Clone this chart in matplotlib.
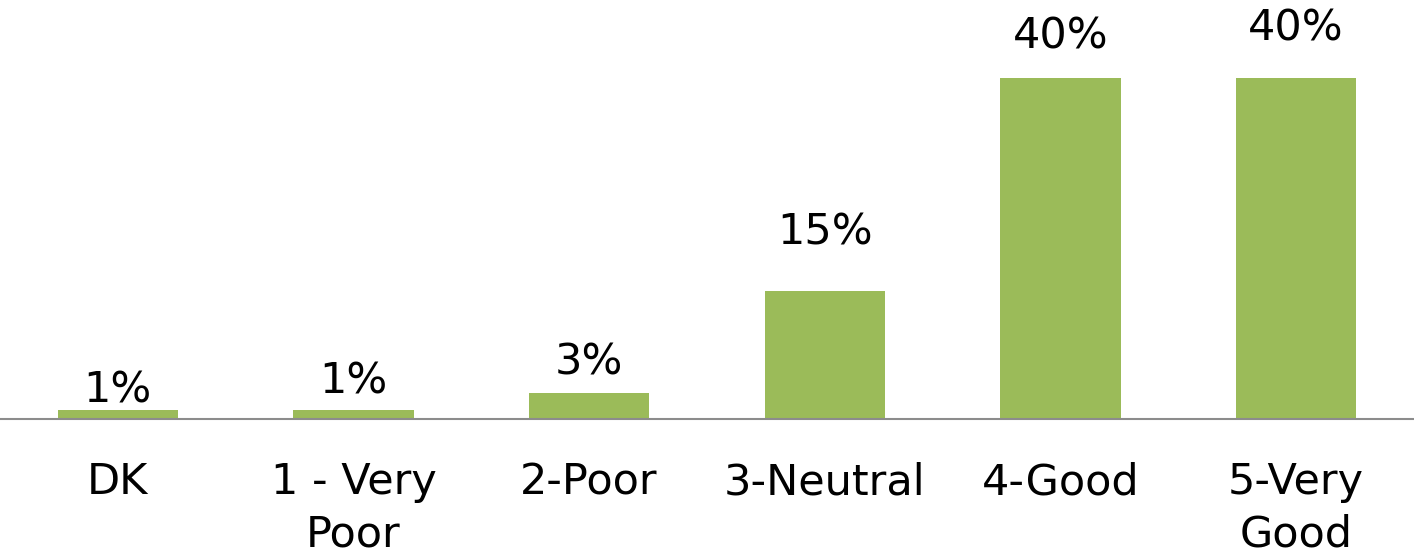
import matplotlib
matplotlib.use("Agg")
import matplotlib.pyplot as plt

categories = ["DK", "1 - Very\nPoor", "2-Poor", "3-Neutral", "4-Good", "5-Very\nGood"]
values = [1, 1, 3, 15, 40, 40]
value_labels = ["1%", "1%", "3%", "15%", "40%", "40%"]

# label gap above each bar (pixels), as placed in the original
label_gaps_px = [8, 17, 19, 47, 30, 38]

plt.rcParams['font.family'] = ['DejaVu Sans']
DPI = 100
fig = plt.figure(figsize=(14.14, 5.56), dpi=DPI)
ax = fig.add_axes([0, 0.2464, 1, 0.7536])

x = list(range(len(categories)))
ax.bar(x, values, width=0.51, color="#9BBB59", zorder=2)

ax.set_xlim(-0.5, len(categories) - 0.5)
ax.set_ylim(0, 49.2)

for xi, v, lab, g in zip(x, values, value_labels, label_gaps_px):
    ax.annotate(lab, (xi, v), xytext=(0, g * 72 / DPI), textcoords="offset points",
                ha="center", va="baseline", fontsize=31, color="#000000")

ax.set_xticks(x)
ax.set_xticklabels(categories, fontsize=31, linespacing=1.32)
ax.tick_params(axis="x", length=0, pad=30.5)
ax.set_yticks([])
for s in ["top", "left", "right"]:
    ax.spines[s].set_visible(False)
ax.spines["bottom"].set_color("#8C8C8C")
ax.spines["bottom"].set_linewidth(1.5)

fig.savefig("out.png", dpi=DPI)
